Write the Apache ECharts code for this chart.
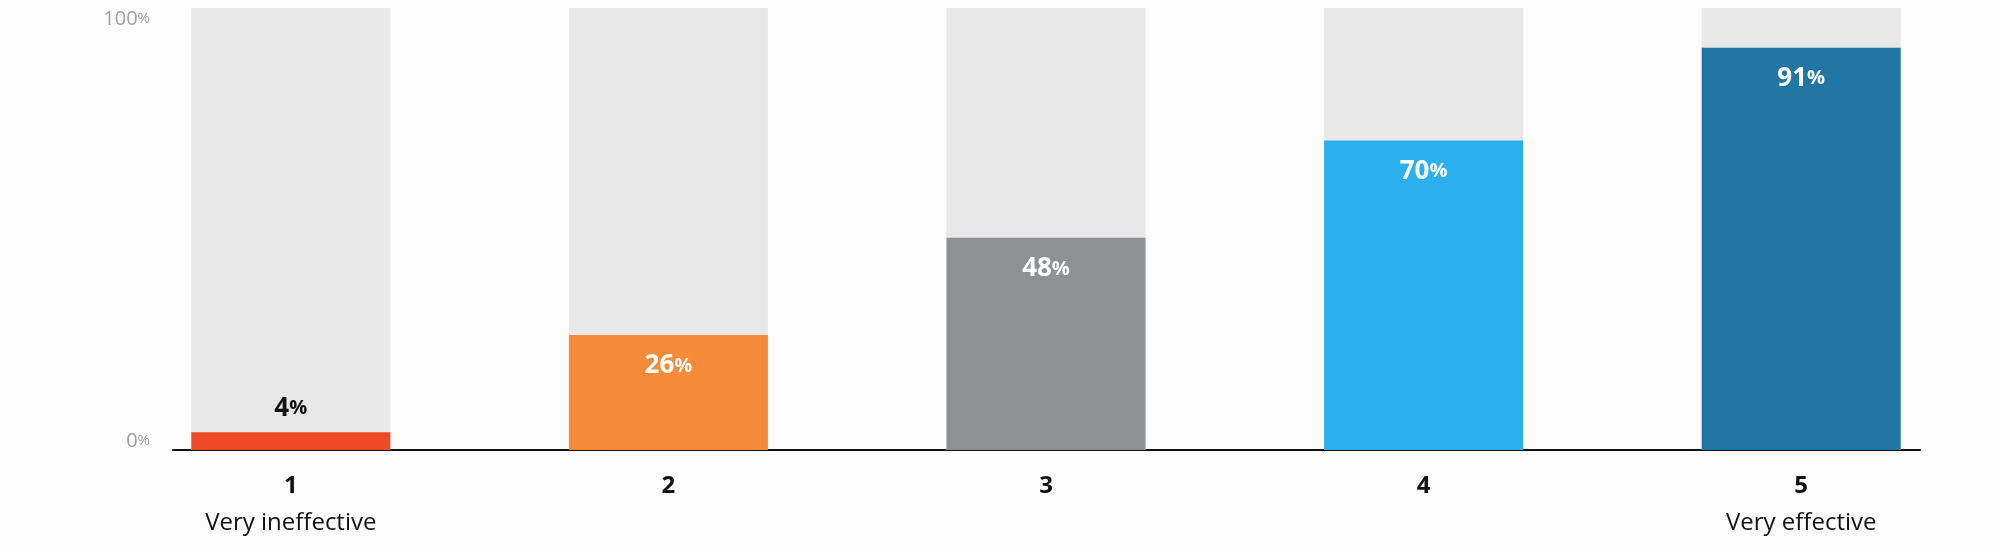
<!DOCTYPE html>
<html>
<head>
<meta charset="utf-8">
<script src="https://cdn.jsdelivr.net/npm/echarts@6/dist/echarts.min.js"></script>
<style>
  html, body { margin: 0; padding: 0; background: #fcfcfc; }
  #chart { width: 2000px; height: 550px; }
</style>
</head>
<body>
<div id="chart"></div>
<script>
var categories = ['1', '2', '3', '4', '5'];
var subtitles = ['Very ineffective', '', '', '', 'Very effective'];
var values = [4, 26, 48, 70, 91];
var barColors = ['#ee4a25', '#f58a38', '#8f9094', '#2ab0ec', '#2276a6'];
var yTicks = [0, 100];

var chart = echarts.init(document.getElementById('chart'));

// small bars get their label above in black, others inside in white
var barData = values.map(function (v, i) {
  var small = v < 10;
  return {
    value: v,
    itemStyle: { color: barColors[i] },
    label: {
      position: small ? 'top' : 'insideTop',
      distance: small ? 11 : 18,
      color: small ? '#111' : '#fff'
    }
  };
});

var option = {
  backgroundColor: '#fcfcfc',
  animation: false,
  grid: [
    { left: 102, right: 10, top: 8, bottom: 100 },
    { left: 173, right: 80, top: 8, bottom: 100 }
  ],
  xAxis: [
    {
      type: 'category', gridIndex: 0, data: categories,
      axisLine: { show: false }, axisTick: { show: false },
      axisLabel: {
        margin: 21,
        formatter: function (val, idx) {
          var s = '{n|' + val + '}';
          if (subtitles[idx]) s += '\n{s|' + subtitles[idx] + '}';
          return s;
        },
        rich: {
          n: { fontFamily: 'Open Sans', fontWeight: 'bold', fontSize: 24, color: '#111', lineHeight: 30 },
          s: { fontFamily: 'Open Sans', fontSize: 24, color: '#111', lineHeight: 44 }
        }
      }
    },
    {
      type: 'value', gridIndex: 1, min: 0, max: 1,
      axisLine: { show: true, lineStyle: { color: '#111', width: 2 } },
      axisTick: { show: false }, axisLabel: { show: false }, splitLine: { show: false }
    }
  ],
  yAxis: [
    {
      type: 'value', gridIndex: 0, min: 0, max: 100,
      show: false
    },
    {
      type: 'value', gridIndex: 1, min: 0, max: 100, interval: 100,
      axisLine: { show: false }, axisTick: { show: false }, splitLine: { show: false },
      axisLabel: {
        margin: 23,
        formatter: function (v) {
          return v === yTicks[1] ? '{t|' + v + '}{tp|%}' : '{b|' + v + '}{bp|%}';
        },
        rich: {
          t: { fontFamily: 'Open Sans', fontSize: 20, color: '#a0a0a0', padding: [22, 0, 0, 0] },
          tp: { fontFamily: 'Open Sans', fontSize: 15, color: '#a0a0a0', padding: [22, 0, 0, 0] },
          b: { fontFamily: 'Open Sans', fontSize: 20, color: '#a0a0a0', padding: [0, 0, 18, 0] },
          bp: { fontFamily: 'Open Sans', fontSize: 15, color: '#a0a0a0', padding: [0, 0, 18, 0] }
        }
      }
    }
  ],
  series: [
    {
      type: 'bar', xAxisIndex: 0, yAxisIndex: 0,
      data: barData,
      barWidth: 199,
      showBackground: true,
      backgroundStyle: { color: '#e8e8e8' },
      label: {
        show: true,
        formatter: function (p) { return '{n|' + p.value + '}{p|%}'; },
        rich: {
          n: { fontFamily: 'Open Sans', fontWeight: 'bold', fontSize: 26 },
          p: { fontFamily: 'Open Sans', fontWeight: 'bold', fontSize: 20 }
        }
      }
    }
  ]
};

chart.setOption(option);
</script>
</body>
</html>
